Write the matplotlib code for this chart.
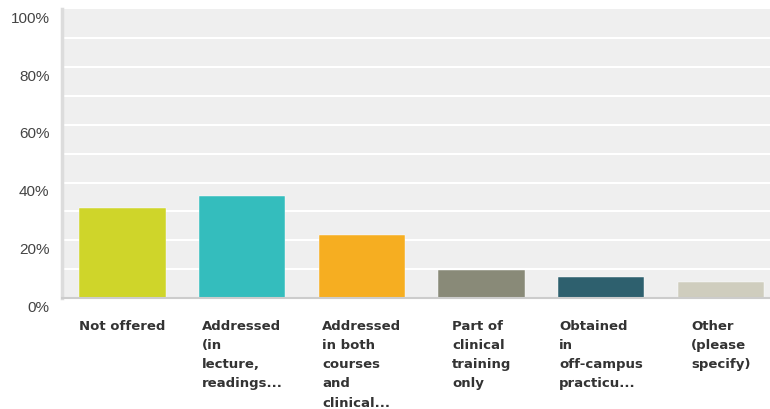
import matplotlib.pyplot as plt
import matplotlib.transforms as mtransforms

# Answer choices (wrapped as shown under the bars)
categories = [
    "Not offered",
    "Addressed\n(in\nlecture,\nreadings...",
    "Addressed\nin both\ncourses\nand\nclinical...",
    "Part of\nclinical\ntraining\nonly",
    "Obtained\nin\noff-campus\npracticu...",
    "Other\n(please\nspecify)",
]
percentages = [31.1, 35.3, 21.7, 9.7, 7.2, 5.7]
bar_colors = ["#cfd52a", "#34bdbd", "#f6ae21", "#898a78", "#2e606e", "#cfcdbe"]
y_ticks = [0, 20, 40, 60, 80, 100]
y_tick_labels = ["0%", "20%", "40%", "60%", "80%", "100%"]

fig = plt.figure(figsize=(7.7, 4.1), dpi=100)
ax = fig.add_axes([0.0805, 0.2707, 0.9195, 0.7037])

ax.set_facecolor("#efefef")
x = range(len(categories))
ax.bar(x, percentages, width=0.72, color=bar_colors, zorder=3,
       edgecolor="white", linewidth=0.3)

# white gridlines every 10%
for g in range(10, 100, 10):
    ax.axhline(g, color="white", linewidth=1.5, zorder=1)

ax.set_xlim(-0.506, 5.41)
ax.set_ylim(0, 100)

for side in ["top", "right"]:
    ax.spines[side].set_visible(False)
ax.spines["left"].set_color("#dcdcdc")
ax.spines["left"].set_linewidth(2.5)
ax.spines["bottom"].set_color("#cccccc")
ax.spines["bottom"].set_linewidth(1.5)
ax.spines["bottom"].set_zorder(4)

ax.set_yticks(y_ticks)
ax.set_yticklabels(y_tick_labels, fontsize=11, color="#444444",
                   family="Liberation Sans")
ax.tick_params(axis="y", length=0, pad=9)
offset = mtransforms.ScaledTranslation(0, -7 / 100, fig.dpi_scale_trans)
for lab in ax.get_yticklabels():
    lab.set_transform(lab.get_transform() + offset)

ax.set_xticks(list(x))
ax.set_xticklabels(categories, fontsize=9.5, fontweight="bold", color="#333333",
                   family="DejaVu Sans", multialignment="left", linespacing=1.62)
ax.tick_params(axis="x", length=0, pad=15)

fig.savefig("out.png", dpi=100, facecolor="white")
